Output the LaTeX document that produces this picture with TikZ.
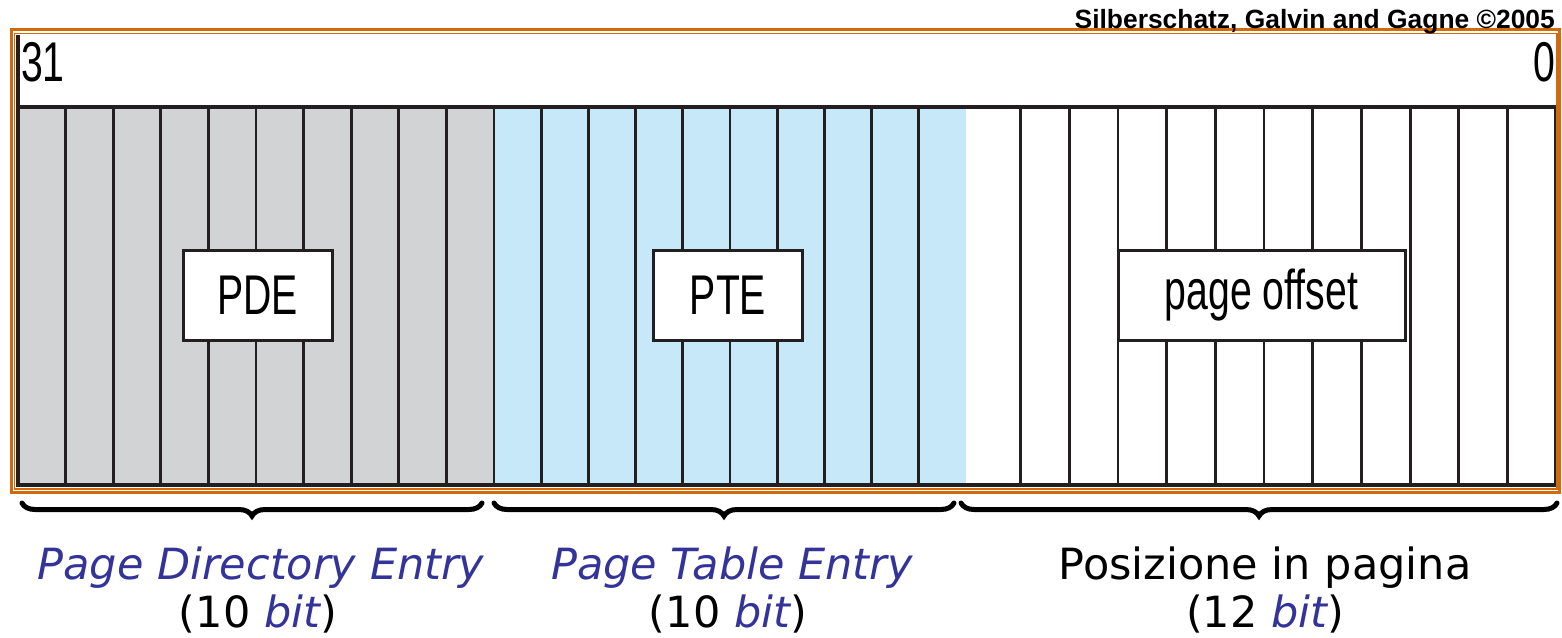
\documentclass[tikz,border=0pt]{standalone}
\usepackage{fontspec}
\usepackage{graphicx}
\usetikzlibrary{decorations.pathreplacing}
\newfontfamily\helv{Liberation Sans}
\newfontfamily\verd{DejaVu Sans}
\definecolor{frameor}{RGB}{208,106,10}
\definecolor{pdegray}{RGB}{209,211,212}
\definecolor{pteblue}{RGB}{199,232,249}
\definecolor{lblue}{RGB}{51,51,153}
\definecolor{cellline}{RGB}{35,31,32}
\tikzset{
  cellv/.style={draw=cellline, line width=2.8pt},
  frameline/.style={draw=cellline, line width=3.2pt},
  fieldbox/.style={draw=cellline, fill=white, line width=3pt, inner sep=0pt, minimum height=90pt},
  boxtext/.style={font=\helv\fontsize{56}{56}\selectfont},
  bitnum/.style={font=\helv\fontsize{56}{56}\selectfont, inner sep=0pt},
  bracestyle/.style={decorate, decoration={brace, mirror, amplitude=13pt}, line width=5pt, line cap=round},
  labeltext/.style={font=\verd\fontsize{43}{48}\selectfont, inner sep=0pt, anchor=base},
}
\newcommand{\narrow}[1]{\scalebox{0.7}[1]{#1}}
\begin{document}
\begin{tikzpicture}[x=1pt,y=-1pt]
\useasboundingbox (0,0) rectangle (1562,637);
% region fills
\fill[pdegray] (18,107) rectangle (494,485);
\fill[pteblue] (494,107) rectangle (966,485);
% cell dividers
\foreach \i in {1,...,10} \draw[cellv] ({18+\i*47.6},107) -- ++(0,378);
\foreach \i in {1,...,9} \draw[cellv] ({494+\i*47.2},107) -- ++(0,378);
\draw[cellv] (1020.5,107) -- ++(0,378);
\foreach \i in {1,...,10} \draw[cellv] ({1020.5+\i*48.7},107) -- ++(0,378);
% black outline of register
\draw[frameline] (18,107) -- (1556,107);
\draw[frameline] (18,485) -- (1556,485);
\draw[frameline] (18,35) -- (18,486.5);
\draw[frameline] (1556,107) -- (1556,486.5);
% orange double frame
\draw[frameor, line width=3pt] (11,29.5) rectangle (1559.5,492);
\draw[frameor, line width=1.5pt] (14.5,33.5) rectangle (1557,489);
% bit numbers
\node[bitnum, anchor=base west] (b31) at (21,81) {\narrow{31}};
\node[bitnum, anchor=base east] (b0) at (1555,81) {\narrow{0}};
% field boxes
\node[fieldbox, minimum width=149pt] (pde) at (257.5,295) {};
\node[boxtext] at (pde.center) {\narrow{PDE}};
\node[fieldbox, minimum width=149pt] (pte) at (728,295) {};
\node[boxtext] at (pte.center) {\narrow{PTE}};
\node[fieldbox, minimum width=287pt] (off) at (1261.5,295) {};
\node[boxtext] at (off.center) {\narrow{page offset}};
% copyright
\node[font=\helv\bfseries\fontsize{26.4}{26.4}\selectfont, anchor=base east, inner sep=0pt] (copy) at (1555,28) {Silberschatz, Galvin and Gagne ©2005};
% braces
\coordinate (br1a) at (22,503); \coordinate (br1b) at (482,503);
\coordinate (br2a) at (494,503); \coordinate (br2b) at (954,503);
\coordinate (br3a) at (961,503); \coordinate (br3b) at (1557,503);
\draw[bracestyle] (br1a) -- (br1b);
\draw[bracestyle] (br2a) -- (br2b);
\draw[bracestyle] (br3a) -- (br3b);
% labels
\node[labeltext, text=lblue] (l1a) at (261,579) {\itshape Page Directory Entry};
\node[labeltext] (l1b) at (258,627) {(10 \textcolor{lblue}{\itshape bit})};
\node[labeltext, text=lblue] (l2a) at (732,579) {\itshape Page Table Entry};
\node[labeltext] (l2b) at (728,627) {(10 \textcolor{lblue}{\itshape bit})};
\node[labeltext] (l3a) at (1265,579) {Posizione in pagina};
\node[labeltext] (l3b) at (1265,627) {(12 \textcolor{lblue}{\itshape bit})};
\end{tikzpicture}
\end{document}
